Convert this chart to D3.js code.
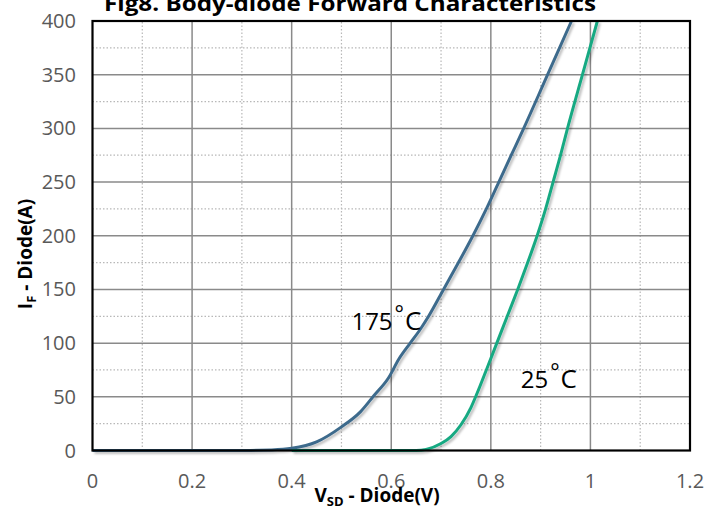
<!DOCTYPE html>
<html>
<head>
<meta charset="utf-8">
<script src="https://cdn.jsdelivr.net/npm/d3@7"></script>
<style>
  body { margin: 0; background: #fff; }
  text { font-family: "Open Sans", "DejaVu Sans", sans-serif; }
</style>
</head>
<body>
<svg id="chart" width="722" height="518"></svg>
<script>
// data
var v25 = [0.4, 0.6, 0.65, 0.67, 0.7, 0.72, 0.74, 0.76, 0.773, 0.791, 0.812, 0.833, 0.854, 0.874, 0.893, 0.91, 0.925, 0.94, 0.954, 0.984, 1.014];
var i25 = [0, 0, 0, 1, 6.5, 13, 24, 40, 54, 75, 100, 125, 150, 175, 200, 225, 250, 275, 300, 350, 400];

var v175 = [0, 0.3, 0.36, 0.4, 0.45, 0.5, 0.538, 0.565, 0.595, 0.615, 0.638, 0.657, 0.675, 0.705, 0.735, 0.764, 0.791, 0.816, 0.841, 0.866, 0.914, 0.962];
var i175 = [0, 0, 0.5, 2, 8, 22, 36, 51, 68, 85, 100, 112, 125, 150, 175, 200, 225, 250, 275, 300, 350, 400];

var xTicks = [0, 0.2, 0.4, 0.6, 0.8, 1, 1.2];
var yTicks = [0, 50, 100, 150, 200, 250, 300, 350, 400];
var xMinor = [0.1, 0.3, 0.5, 0.7, 0.9, 1.1];
var yMinor = [25, 75, 125, 175, 225, 275, 325, 375];

var labels = [
  {v: 0.52, i: 112, t: "175"},
  {v: 0.86, i: 58, t: "25"}
];

var svg = d3.select("#chart");
var x = d3.scaleLinear().domain([0, 1.2]).range([92.5, 690]);
var y = d3.scaleLinear().domain([0, 400]).range([450.5, 21]);

var defs = svg.append("defs");
var f = defs.append("filter").attr("id", "shadow")
  .attr("x", "-10%").attr("y", "-10%").attr("width", "120%").attr("height", "120%");
f.append("feDropShadow").attr("dx", 2).attr("dy", 2).attr("stdDeviation", 1.2)
  .attr("flood-color", "#000").attr("flood-opacity", 0.25);

// minor dotted grid
svg.append("g").selectAll("line").data(xMinor).enter().append("line")
  .attr("x1", x).attr("x2", x).attr("y1", y(0)).attr("y2", y(400))
  .attr("stroke", "#b8b8b8").attr("stroke-width", 1.2).attr("stroke-dasharray", "1.5,2");
svg.append("g").selectAll("line").data(yMinor).enter().append("line")
  .attr("y1", y).attr("y2", y).attr("x1", x(0)).attr("x2", x(1.2))
  .attr("stroke", "#b8b8b8").attr("stroke-width", 1.2).attr("stroke-dasharray", "1.5,2");

// major grid
svg.append("g").selectAll("line").data(xTicks.slice(1, -1)).enter().append("line")
  .attr("x1", x).attr("x2", x).attr("y1", y(0)).attr("y2", y(400))
  .attr("stroke", "#8a8a8a").attr("stroke-width", 1.5);
svg.append("g").selectAll("line").data(yTicks.slice(1, -1)).enter().append("line")
  .attr("y1", y).attr("y2", y).attr("x1", x(0)).attr("x2", x(1.2))
  .attr("stroke", "#8a8a8a").attr("stroke-width", 1.5);

// curves
var line = d3.line().x(function(d) { return x(d[0]); }).y(function(d) { return y(d[1]); })
  .curve(d3.curveMonotoneX);

svg.append("path").datum(d3.zip(v175, i175))
  .attr("d", line).attr("fill", "none")
  .attr("stroke", "#3d6b8c").attr("stroke-width", 3).attr("filter", "url(#shadow)");
svg.append("path").datum(d3.zip(v25, i25))
  .attr("d", line).attr("fill", "none")
  .attr("stroke", "#17a982").attr("stroke-width", 3).attr("filter", "url(#shadow)");

// frame
svg.append("rect")
  .attr("x", x(0)).attr("y", y(400))
  .attr("width", x(1.2) - x(0)).attr("height", y(0) - y(400))
  .attr("fill", "none").attr("stroke", "#000").attr("stroke-width", 2.2);

// tick labels
svg.append("g").selectAll("text").data(yTicks).enter().append("text")
  .attr("x", 76).attr("y", y).attr("dy", "0.35em")
  .attr("text-anchor", "end").attr("font-size", 20).attr("fill", "#595959")
  .text(function(d) { return d; });
svg.append("g").selectAll("text").data(xTicks).enter().append("text")
  .attr("x", x).attr("y", 481).attr("dy", "0.35em")
  .attr("text-anchor", "middle").attr("font-size", 20).attr("fill", "#595959")
  .text(function(d) { return d; });

// temperature labels
labels.forEach(function(l) {
  var t = svg.append("text").attr("x", x(l.v)).attr("y", y(l.i))
    .attr("font-size", 24).attr("fill", "#000");
  t.append("tspan").text(l.t);
  t.append("tspan").attr("dx", 2).attr("dy", -9).attr("font-size", 22).text("°");
  t.append("tspan").attr("dx", 1).attr("dy", 9).attr("font-size", 26).text("C");
});

// title
svg.append("text").attr("x", 350).attr("y", 11)
  .attr("text-anchor", "middle").attr("font-size", 22).attr("font-weight", "bold")
  .attr("textLength", 492).attr("lengthAdjust", "spacingAndGlyphs")
  .text("Fig8. Body-diode Forward Characteristics");

// axis titles
var xt = svg.append("text").attr("x", 377).attr("y", 502)
  .attr("text-anchor", "middle").attr("font-size", 19).attr("font-weight", "bold");
xt.append("tspan").text("V");
xt.append("tspan").attr("dy", 4).attr("font-size", 13).text("SD");
xt.append("tspan").attr("dy", -4).text(" - Diode(V)");

var yt = svg.append("text").attr("transform", "translate(32,254) rotate(-90)")
  .attr("text-anchor", "middle").attr("font-size", 19).attr("font-weight", "bold");
yt.append("tspan").text("I");
yt.append("tspan").attr("dy", 4).attr("font-size", 13).text("F");
yt.append("tspan").attr("dy", -4).text(" - Diode(A)");
</script>
</body>
</html>
